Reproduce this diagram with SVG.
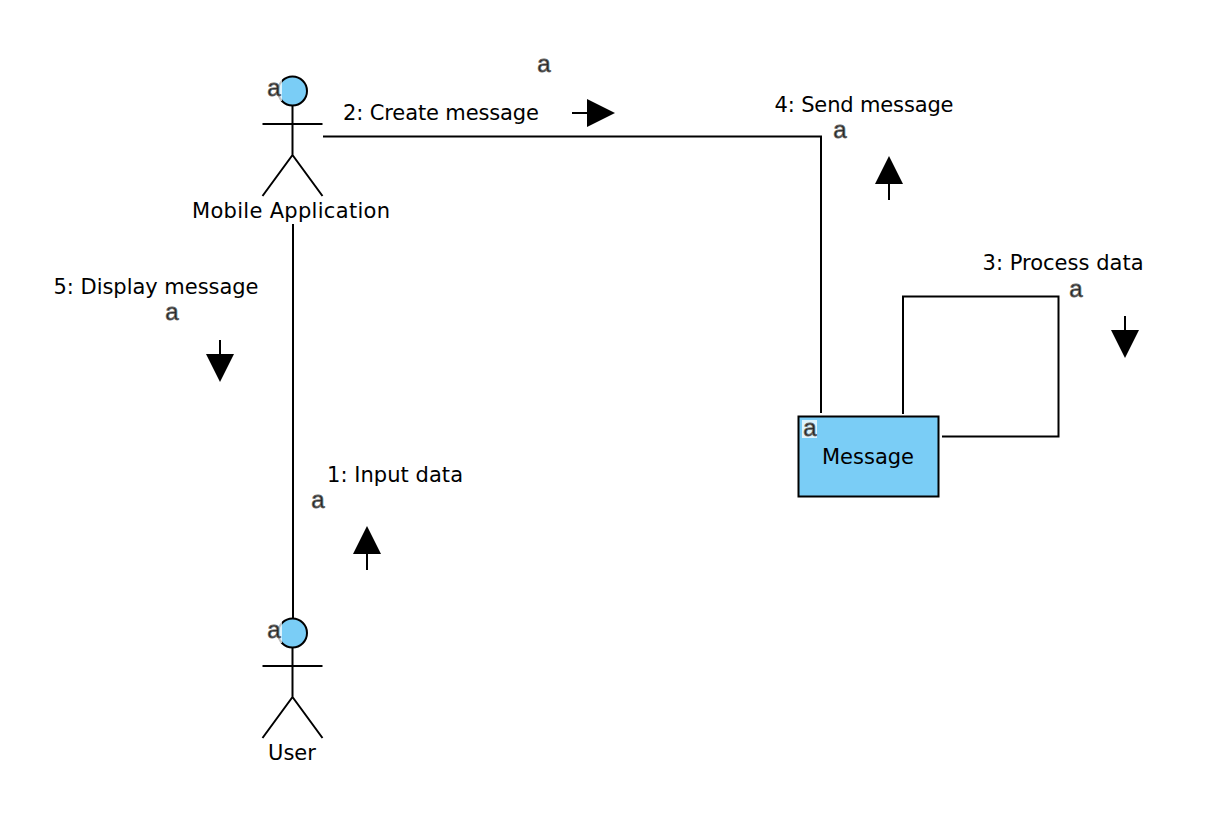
<svg xmlns="http://www.w3.org/2000/svg" width="1208" height="836" viewBox="0 0 1208 836">
<style>
text{font-family:"DejaVu Sans","Liberation Sans",sans-serif;fill:#000}
.l{font-size:21px;text-anchor:middle}
.a{font-family:"Liberation Sans",Arial,sans-serif;font-size:24px;text-anchor:middle;fill:#222;stroke:#666;stroke-width:.8px}
.s{fill:none;stroke:#000;stroke-width:2}
.f{fill:#7acdf6;stroke:#000;stroke-width:2}
.w{fill:#fff;opacity:.75}
</style>
<defs>
<g id="actor">
<circle class="f" cx="0" cy="0" r="14.5"/>
<path class="s" d="M0 14.500V64L-30 105M0 64L30 105M-30 33H30"/>
</g>
</defs>
<rect width="1208" height="836" fill="#fff"/>
<g id="connectors">
<path class="s" d="M293 224V618"/>
<path class="s" d="M323 136.500H821V413"/>
<path class="s" d="M903 414V296.500H1058.500V436.500H942"/>
</g>
<g id="arrows">
<path class="s" d="M572 113H590"/><path d="M587 99L615 113L587 127Z"/>
<path class="s" d="M889 200V182"/><path d="M875 184L889 156L903 184Z"/>
<path class="s" d="M1125 316V334"/><path d="M1111 330L1125 358L1139 330Z"/>
<path class="s" d="M220 340V358"/><path d="M206 354L220 382L234 354Z"/>
<path class="s" d="M367 570V552"/><path d="M353 554L367 526L381 554Z"/>
</g>
<g id="mobile-application">
<use href="#actor" x="292.500" y="91"/>
<rect class="w" x="268" y="79" width="14" height="22"/>
<text class="a" x="274" y="96">a</text>
<text class="l" x="291" y="218" textLength="198" lengthAdjust="spacing">Mobile Application</text>
</g>
<g id="user">
<use href="#actor" x="292.500" y="633"/>
<rect class="w" x="268" y="621" width="14" height="22"/>
<text class="a" x="274" y="638">a</text>
<text class="l" x="292" y="760">User</text>
</g>
<g id="message">
<rect class="f" x="798.500" y="416.500" width="140" height="80"/>
<rect x="802" y="420" width="15" height="18" fill="#fff" opacity=".75"/>
<text class="a" x="810" y="436">a</text>
<text class="l" x="868" y="464" textLength="92" lengthAdjust="spacing">Message</text>
</g>
<g id="labels">
<text class="l" x="441" y="120" textLength="196" lengthAdjust="spacing">2: Create message</text>
<text class="a" x="544" y="72">a</text>
<text class="l" x="864" y="112" textLength="179" lengthAdjust="spacing">4: Send message</text>
<text class="a" x="840" y="138">a</text>
<text class="l" x="1063" y="270" textLength="161" lengthAdjust="spacing">3: Process data</text>
<text class="a" x="1076" y="297">a</text>
<text class="l" x="156" y="294" textLength="205" lengthAdjust="spacing">5: Display message</text>
<text class="a" x="172" y="320">a</text>
<text class="l" x="395" y="482" textLength="136" lengthAdjust="spacing">1: Input data</text>
<text class="a" x="318" y="508">a</text>
</g>
</svg>
